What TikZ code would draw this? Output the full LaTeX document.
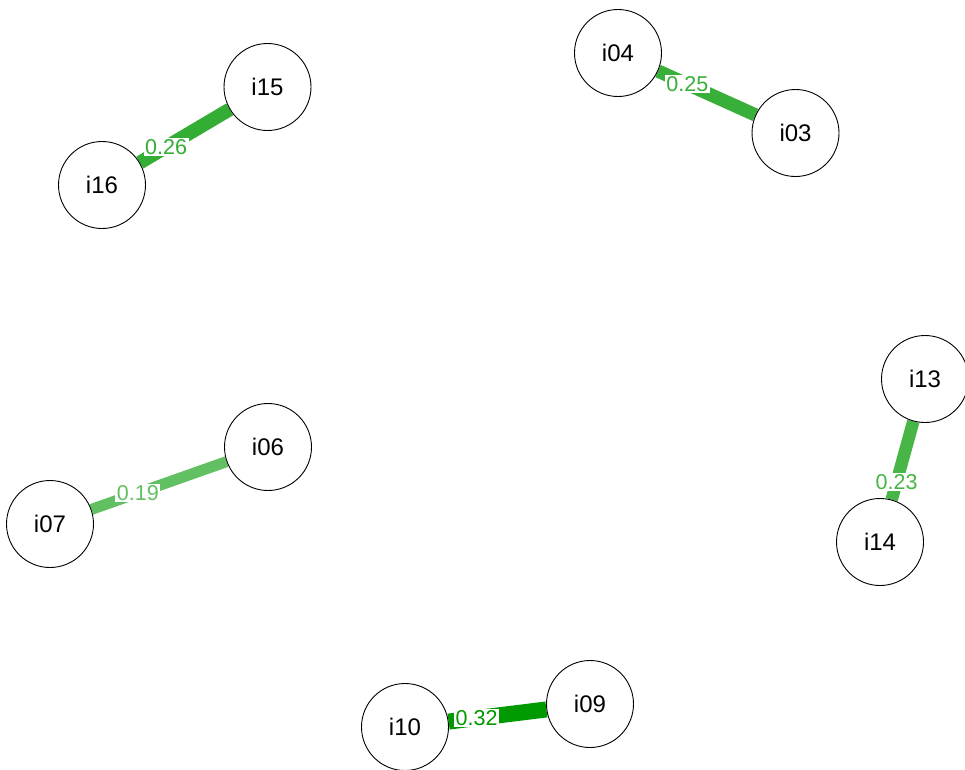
\documentclass[tikz,border=0pt]{standalone}
\usepackage{fontspec}
\setmainfont{Liberation Sans}
\usepackage{xcolor}
\usetikzlibrary{arrows.meta,backgrounds}

\definecolor{gA}{RGB}{0,153,0}
\colorlet{gB}{gA!80!white}
\colorlet{gC}{gA!78!white}
\colorlet{gD}{gA!72!white}
\colorlet{gE}{gA!62!white}

\begin{document}
\begin{tikzpicture}[x=1pt, y=-1pt,
    item/.style={circle, draw=black, line width=0.9pt, fill=white, minimum size=87pt, inner sep=0pt, font=\fontsize{24}{24}\selectfont},
    wlabel/.style={fill=white, inner sep=1.5pt, font=\fontsize{21.5}{21.5}\selectfont}]
    \useasboundingbox (0,0) rectangle (965,769);

    % nodes
    \node[item] (i15) at (267.5,87) {i15};
    \node[item] (i16) at (102,185) {i16};
    \node[item] (i04) at (618,53) {i04};
    \node[item] (i03) at (795.5,133) {i03};
    \node[item] (i13) at (925,379) {i13};
    \node[item] (i14) at (880,542) {i14};
    \node[item] (i06) at (268,447) {i06};
    \node[item] (i07) at (50,524) {i07};
    \node[item] (i10) at (405,727) {i10};
    \node[item] (i09) at (590,704) {i09};

    % weighted edges, under the circles
    \begin{scope}[on background layer]
    \draw[gB, line width=13.7pt] (i16) -- (i15) node[wlabel, text=gB, pos=0.293] (w1516) {0.26};
    \draw[gC, line width=13.3pt] (i04) -- (i03) node[wlabel, text=gC, pos=0.30] (w0403) {0.25};
    \draw[gD, line width=12.5pt] (i14) -- (i13) node[wlabel, text=gD, pos=0.228] (w1314) {0.23};
    \draw[gE, line width=11pt] (i07) -- (i06) node[wlabel, text=gE, pos=0.343] (w0607) {0.19};
    \draw[gA, line width=16pt] (i10) -- (i09) node[wlabel, text=gA, pos=0.286] (w0910) {0.32};
    \end{scope}
\end{tikzpicture}
\end{document}
